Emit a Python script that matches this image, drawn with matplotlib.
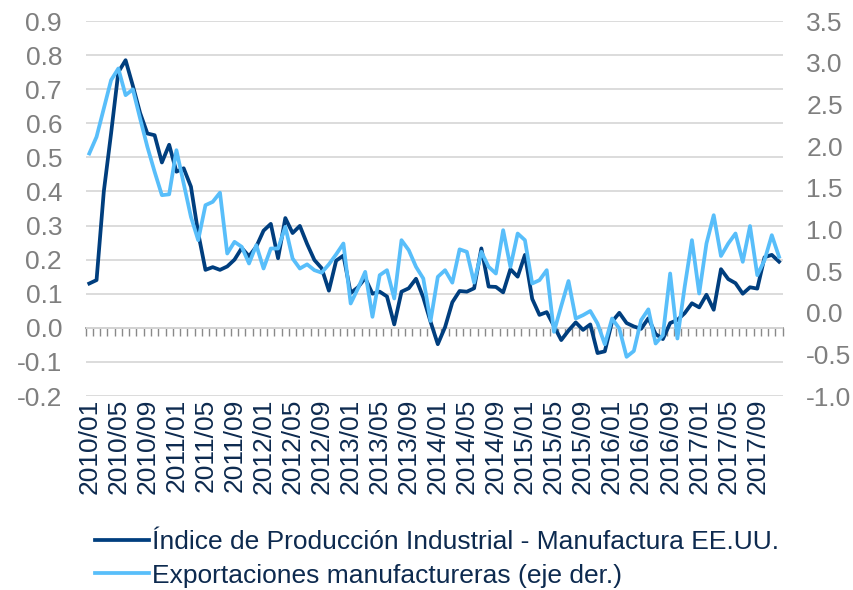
import numpy as np
import matplotlib.pyplot as plt
from matplotlib.ticker import FormatStrFormatter

plt.rcParams['font.family'] = ['Liberation Sans', 'DejaVu Sans']
plt.rcParams['axes.unicode_minus'] = False

# monthly categories 2010/01 - 2017/12
months = [f'{y}/{m:02d}' for y in range(2010, 2018) for m in range(1, 13)]

# Indice de Produccion Industrial - Manufactura EE.UU. (left axis)
ipi = [0.13, 0.14, 0.40, 0.57, 0.75, 0.785, 0.71, 0.63, 0.57, 0.565, 0.485, 0.537,
       0.458, 0.468, 0.414, 0.278, 0.17, 0.178, 0.17, 0.18, 0.20, 0.234, 0.21, 0.238,
       0.285, 0.305, 0.204, 0.322, 0.278, 0.299, 0.246, 0.199, 0.175, 0.109, 0.197, 0.212,
       0.102, 0.119, 0.146, 0.10, 0.106, 0.092, 0.01, 0.106, 0.116, 0.144, 0.089, 0.018,
       -0.048, 0.002, 0.075, 0.108, 0.106, 0.116, 0.233, 0.121, 0.12, 0.104, 0.172, 0.15,
       0.214, 0.085, 0.038, 0.046, 0.005, -0.036, -0.008, 0.016, -0.006, 0.01, -0.074, -0.069,
       0.018, 0.044, 0.014, 0.004, -0.003, 0.028, -0.018, -0.033, 0.014, 0.023, 0.043, 0.072,
       0.06, 0.097, 0.053, 0.172, 0.143, 0.131, 0.10, 0.119, 0.115, 0.207, 0.214, 0.194]

# Exportaciones manufactureras (right axis)
exports = [1.91, 2.11, 2.45, 2.79, 2.93, 2.61, 2.68, 2.33, 1.99, 1.69, 1.41, 1.42,
           1.95, 1.55, 1.15, 0.87, 1.29, 1.33, 1.44, 0.71, 0.85, 0.79, 0.59, 0.81,
           0.53, 0.77, 0.77, 1.03, 0.65, 0.53, 0.58, 0.51, 0.48, 0.58, 0.70, 0.83,
           0.11, 0.29, 0.49, -0.05, 0.45, 0.51, 0.17, 0.87, 0.75, 0.55, 0.41, -0.10,
           0.43, 0.51, 0.36, 0.76, 0.73, 0.36, 0.73, 0.55, 0.47, 0.99, 0.55, 0.95,
           0.87, 0.35, 0.39, 0.51, -0.23, 0.08, 0.38, -0.07, -0.03, 0.02, -0.13, -0.38,
           -0.07, -0.19, -0.53, -0.46, -0.09, 0.04, -0.37, -0.27, 0.47, -0.31, 0.31, 0.87,
           0.23, 0.83, 1.17, 0.68, 0.83, 0.95, 0.61, 1.04, 0.45, 0.63, 0.93, 0.67]

labels = ['Índice de Producción Industrial - Manufactura EE.UU.',
          'Exportaciones manufactureras (eje der.)']

dark = '#003E7E'
light = '#58BEFA'
gray = '#7F7F7F'
navy = '#0D2A4F'

fig = plt.figure(figsize=(8.54, 5.9), dpi=100)
ax = fig.add_axes([0.1003, 0.3288, 0.8162, 0.6356])
x = np.arange(len(months))

l1, = ax.plot(x, ipi, color=dark, lw=2.7)
ax.set_xlim(-0.5, len(months) - 0.5)
ax.set_ylim(-0.2, 0.9)
ax.set_yticks(np.arange(-0.2, 0.91, 0.1))
ax.yaxis.set_major_formatter(FormatStrFormatter('%.1f'))
ax.grid(axis='y', color='#D9D9D9', lw=1.3)
ax.set_axisbelow(True)
for s in ax.spines.values():
    s.set_visible(False)
ax.tick_params(axis='y', length=0, pad=17, labelsize=19, labelcolor=gray)
ax.set_xticks(x[::4])
ax.set_xticklabels(months[::4], rotation=90)
ax.tick_params(axis='x', length=0, pad=2, labelsize=19, labelcolor=navy)

# category axis crossing at zero
sec = ax.secondary_xaxis(0.2 / 1.1)
sec.set_xticks(np.arange(-0.5, len(months), 1))
sec.set_xticklabels([])
sec.tick_params(direction='out', length=6, width=1, color='#898989')
sec.spines['bottom'].set_color('#898989')
sec.spines['bottom'].set_linewidth(1.2)

ax2 = ax.twinx()
l2, = ax2.plot(x, exports, color=light, lw=2.7)
ax2.set_ylim(-1.0, 3.5)
ax2.set_yticks(np.arange(-1.0, 3.51, 0.5))
ax2.yaxis.set_major_formatter(FormatStrFormatter('%.1f'))
for s in ax2.spines.values():
    s.set_visible(False)
ax2.tick_params(axis='y', length=0, pad=17, labelsize=19, labelcolor=gray)

fig.legend([l1, l2], labels, loc='center left', bbox_to_anchor=(0.111, 0.0525),
           frameon=False, fontsize=19, handlelength=2.05, handletextpad=0.1,
           labelspacing=0.35, borderpad=0, borderaxespad=0, labelcolor=navy)

fig.savefig('out.png', dpi=100)
